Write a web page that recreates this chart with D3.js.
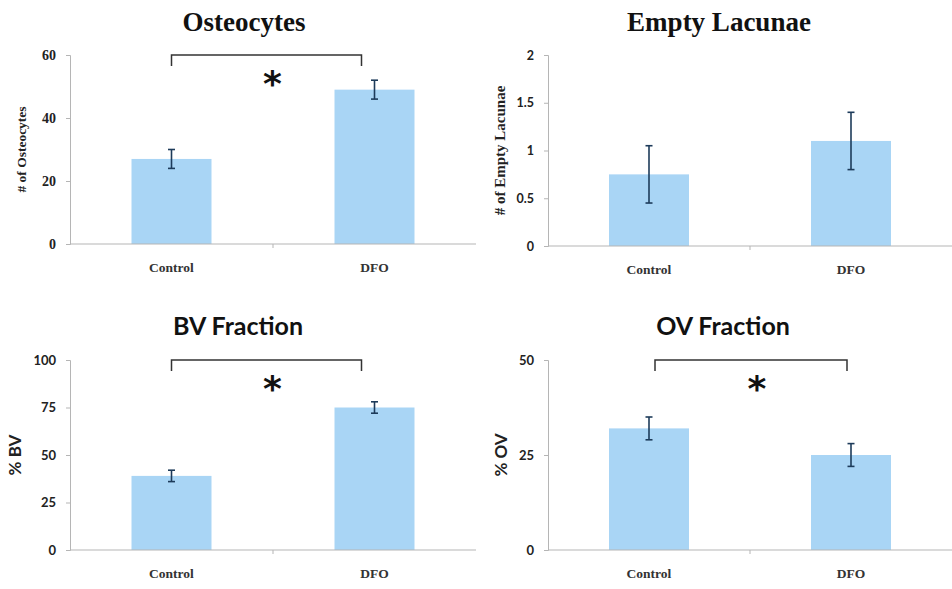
<!DOCTYPE html>
<html>
<head>
  <meta charset="utf-8">
  <title>Osteocytes / Lacunae / BV / OV</title>
  <script type="text/javascript" src="https://cdn.jsdelivr.net/npm/d3@7"></script>
  <style type="text/css">
    body { margin: 0; background: #fff; }
    svg { display: block; }
  </style>
</head>
<body>
<script type="text/javascript">

  // data
  let categories = ["Control", "DFO"]

  let osteocytes = [27, 49]
  let osteocytesErr = [3, 3]
  let osteoTicks = [0, 20, 40, 60]

  let lacunae = [0.75, 1.1]
  let lacunaeErr = [0.3, 0.3]
  let lacunaeTicks = [0, 0.5, 1, 1.5, 2]

  let bvFraction = [39, 75]
  let bvErr = [3, 3]
  let bvTicks = [0, 25, 50, 75, 100]

  let ovFraction = [32, 25]
  let ovErr = [3, 3]
  let ovTicks = [0, 25, 50]

  let [w, h] = [952, 589]
  let serif = "'Liberation Serif', 'Times New Roman', serif"
  let sans = "Lato, 'Open Sans', sans-serif"

  var svg = d3.select("body")
    .append("svg")
    .attr("width", w)
    .attr("height", h)

  var panels = [
    { title: "Osteocytes", titleFont: serif, titleSize: 27, titleX: 244, ylab: "# of Osteocytes", ylabFont: serif, ylabSize: 13.5,
      values: osteocytes, err: osteocytesErr, ticks: osteoTicks, tickFont: serif, tickSize: 14,
      x0: 70, x1: 476, top: 55, bottom: 244, titleY: 31, ylabX: 26, sig: [0, -13] },
    { title: "Empty Lacunae", titleFont: serif, titleSize: 27, titleX: 719, ylab: "# of Empty Lacunae", ylabFont: serif, ylabSize: 15,
      values: lacunae, err: lacunaeErr, ticks: lacunaeTicks, tickFont: sans, tickSize: 12.5,
      x0: 548, x1: 952, top: 55, bottom: 246, titleY: 31, ylabX: 505, sig: null },
    { title: "BV Fraction", titleFont: sans, titleSize: 25, titleX: 238, ylab: "% BV", ylabFont: sans, ylabSize: 17,
      values: bvFraction, err: bvErr, ticks: bvTicks, tickFont: sans, tickSize: 13,
      x0: 70, x1: 476, top: 360, bottom: 550, titleY: 335, ylabX: 21, sig: [0, -13] },
    { title: "OV Fraction", titleFont: sans, titleSize: 25, titleX: 723, ylab: "% OV", ylabFont: sans, ylabSize: 17,
      values: ovFraction, err: ovErr, ticks: ovTicks, tickFont: sans, tickSize: 13,
      x0: 548, x1: 952, top: 360, bottom: 550, titleY: 335, ylabX: 507, sig: [6, -4] }
  ]

  panels.forEach(function (p) {
    var g = svg.append("g")

    var x = d3.scalePoint()
      .domain(categories)
      .range([p.x0, p.x1])
      .padding(0.5)

    var y = d3.scaleLinear()
      .domain([0, d3.max(p.ticks)])
      .range([p.bottom, p.top])

    // title
    g.append("text")
      .attr("x", p.titleX)
      .attr("y", p.titleY)
      .attr("text-anchor", "middle")
      .style("font-family", p.titleFont)
      .style("font-weight", "bold")
      .style("font-size", p.titleSize + "px")
      .attr("fill", "#111")
      .text(p.title)

    // y axis
    var yAxis = g.append("g")
      .attr("transform", "translate(" + p.x0 + ",0)")
      .call(d3.axisLeft(y).tickValues(p.ticks).tickSize(4).tickPadding(10).tickFormat(d3.format("")))
    yAxis.select(".domain").attr("stroke", "#b5b5b5")
    yAxis.selectAll(".tick line").attr("stroke", "#b5b5b5")
    yAxis.selectAll(".tick text")
      .style("font-family", p.tickFont)
      .style("font-weight", "bold")
      .style("font-size", p.tickSize + "px")
      .attr("fill", "#222")

    // y label
    g.append("text")
      .attr("transform", "translate(" + p.ylabX + "," + (p.top + p.bottom) / 2 + ") rotate(-90)")
      .attr("text-anchor", "middle")
      .style("font-family", p.ylabFont)
      .style("font-weight", "bold")
      .style("font-size", p.ylabSize + "px")
      .attr("fill", "#222")
      .text(p.ylab)

    // bars
    var barW = 80
    g.selectAll("rect.bar")
      .data(p.values)
      .join("rect")
      .attr("class", "bar")
      .attr("x", (d, i) => x(categories[i]) - barW / 2)
      .attr("y", d => y(d))
      .attr("width", barW)
      .attr("height", d => y(0) - y(d))
      .attr("fill", "#a9d5f5")

    // baseline with middle tick
    g.append("line")
      .attr("x1", p.x0).attr("x2", p.x1)
      .attr("y1", y(0)).attr("y2", y(0))
      .attr("stroke", "#b5b5b5")
    g.append("line")
      .attr("x1", (p.x0 + p.x1) / 2).attr("x2", (p.x0 + p.x1) / 2)
      .attr("y1", y(0)).attr("y2", y(0) + 4)
      .attr("stroke", "#b5b5b5")

    // category labels
    g.selectAll("text.cat")
      .data(categories)
      .join("text")
      .attr("class", "cat")
      .attr("x", d => x(d))
      .attr("y", y(0) + 28)
      .attr("text-anchor", "middle")
      .style("font-family", serif)
      .style("font-weight", "bold")
      .style("font-size", "13.5px")
      .attr("fill", "#333")
      .text(d => d)

    // error bars
    var eb = g.selectAll("g.err")
      .data(p.values)
      .join("g")
      .attr("class", "err")
      .attr("stroke", "#1d3b5a")
      .attr("stroke-width", 1.6)
    eb.append("line")
      .attr("x1", (d, i) => x(categories[i])).attr("x2", (d, i) => x(categories[i]))
      .attr("y1", (d, i) => y(d + p.err[i])).attr("y2", (d, i) => y(d - p.err[i]))
    eb.append("line")
      .attr("x1", (d, i) => x(categories[i]) - 3.5).attr("x2", (d, i) => x(categories[i]) + 3.5)
      .attr("y1", (d, i) => y(d + p.err[i])).attr("y2", (d, i) => y(d + p.err[i]))
    eb.append("line")
      .attr("x1", (d, i) => x(categories[i]) - 3.5).attr("x2", (d, i) => x(categories[i]) + 3.5)
      .attr("y1", (d, i) => y(d - p.err[i])).attr("y2", (d, i) => y(d - p.err[i]))

    // significance bracket
    if (p.sig) {
      var bx1 = x(categories[0]) + p.sig[0]
      var bx2 = x(categories[1]) + p.sig[1]
      var by = y.range()[1]
      g.append("path")
        .attr("d", "M" + bx1 + "," + (by + 11) + "V" + by + "H" + bx2 + "V" + (by + 11))
        .attr("fill", "none")
        .attr("stroke", "#333")
        .attr("stroke-width", 1.5)
      g.append("text")
        .attr("x", (bx1 + bx2) / 2 + 6)
        .attr("y", by + 41)
        .attr("text-anchor", "middle")
        .style("font-family", "'DejaVu Sans', sans-serif")
        .style("font-weight", "bold")
        .style("font-size", "36px")
        .attr("fill", "#111")
        .text("*")
    }
  })

</script>
</body>
</html>
